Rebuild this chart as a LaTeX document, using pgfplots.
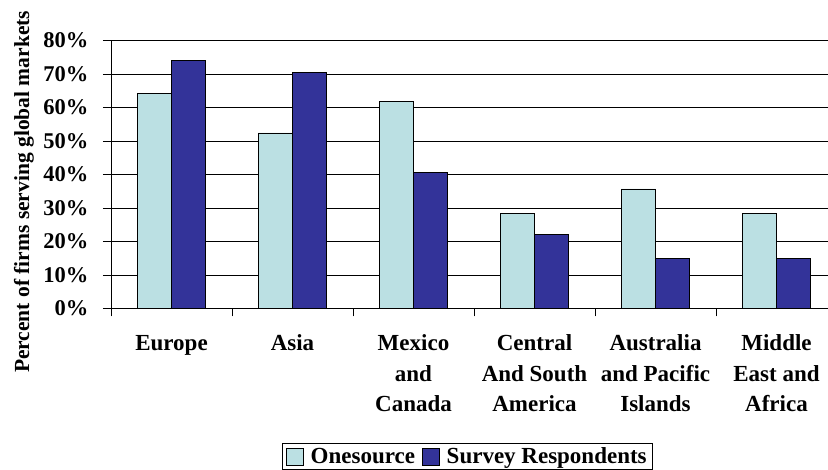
\documentclass[border=0pt]{standalone}
\usepackage{pgfplots}
\pgfplotsset{compat=1.18}
\usepackage{fontspec}
\setmainfont{Liberation Serif}
\definecolor{onesrc}{HTML}{BBE0E3}
\definecolor{survey}{HTML}{333399}
\begin{document}
\begin{tikzpicture}
\begin{axis}[
  scale only axis,
  width=717pt, height=268pt,
  xmin=-0.5, xmax=5.4256, ymin=0, ymax=80,
  axis x line*=bottom, axis y line*=left,
  axis line style={-, black, line width=0.8pt},
  ybar=0pt, bar width=34.3pt,
  xtick={0,1,2,3,4,5},
  xticklabels={Europe, Asia, Mexico\\and\\Canada, Central\\And South\\America, Australia\\and Pacific\\Islands, Middle\\East and\\Africa},
  minor xtick={-0.5,0.5,1.5,2.5,3.5,4.5},
  major x tick style={draw=none},
  minor tick length=8pt,
  ytick={0,10,...,80},
  yticklabels={0\%,10\%,20\%,30\%,40\%,50\%,60\%,70\%,80\%},
  major tick length=8pt,
  tick align=outside,
  tick style={black, line width=0.8pt},
  ymajorgrids, major grid style={black, line width=0.8pt},
  xticklabel style={align=center, anchor=north, font=\bfseries\fontsize{23}{30.5}\selectfont, yshift=-15pt},
  yticklabel style={font=\bfseries\fontsize{22.5}{26}\selectfont, anchor=east, xshift=-11pt},
  ylabel={Percent of firms serving global markets},
  ylabel style={font=\bfseries\fontsize{21.5}{25}\selectfont, at={(axis description cs:-0.1213,0.435)}, anchor=center, rotate=0},
  legend style={at={(axis description cs:0.497,-0.552)}, anchor=center, draw=black, line width=0.8pt,
    font=\bfseries\fontsize{23}{27}\selectfont, legend columns=2, inner xsep=4pt, inner ysep=2pt,
    /tikz/every odd column/.append style={column sep=5pt},
    /tikz/every even column/.append style={column sep=5pt}},
  legend image code/.code={\draw[#1, line width=0.7pt] (0pt,-8.5pt) rectangle (17pt,8.5pt);},
]
\addplot[fill=onesrc, draw=black, line width=0.8pt] coordinates {(0,64.2) (1,52.4) (2,61.9) (3,28.4) (4,35.7) (5,28.4)};
\addlegendentry{Onesource}
\addplot[fill=survey, draw=black, line width=0.8pt] coordinates {(0,74.1) (1,70.5) (2,40.6) (3,22.1) (4,14.9) (5,14.9)};
\addlegendentry{Survey Respondents}
\end{axis}
\pgfresetboundingbox
\path[use as bounding box] (-111pt,-161.5pt) rectangle (717pt,308.5pt);
\end{tikzpicture}
\end{document}
